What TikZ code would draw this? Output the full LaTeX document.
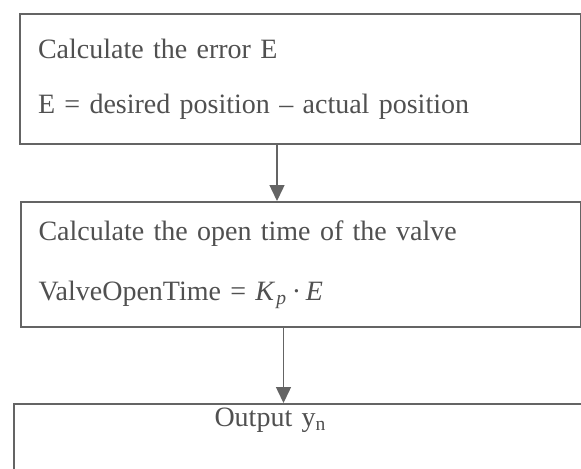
\documentclass[tikz,border=0pt]{standalone}
\usepackage{fontspec}
\setmainfont{Liberation Serif}
\usepackage{tikz}
\usetikzlibrary{positioning,arrows.meta}

\definecolor{linegray}{RGB}{100,100,100}
\definecolor{textgray}{RGB}{80,80,80}

\begin{document}
\begin{tikzpicture}[
x=0.5pt, y=-0.5pt,
box/.style={rectangle, draw=linegray, line width=1pt, text=textgray, align=left, inner xsep=9pt, inner ysep=0pt},
arrow/.style={-{Triangle[length=8pt,width=7.5pt]}, draw=linegray, line width=0.7pt}
]
\clip (0,0) rectangle (581,468);
\fill[white] (0,0) rectangle (581,468);

\node[box, anchor=north west, minimum width=280.5pt, minimum height=65pt, text width=262.5pt,
  font=\fontsize{14}{27.5}\selectfont] (error) at (19,13)
  {Calculate the error E\\E = desired position – actual position};
\node[box, below=28pt of error, minimum width=280pt, minimum height=62.5pt, text width=262pt,
  font=\fontsize{14}{30}\selectfont] (valve)
  {Calculate the open time of the valve\\ValveOpenTime = \textit{K}\textsubscript{\kern0.5pt\textit{p}}\,·\,\textit{E}};
\node[box, below=37.5pt of valve, xshift=-1.5pt, inner xsep=100.5pt, text width=83pt,
  text height=11pt, text depth=40pt, font=\fontsize{14}{17}\selectfont] (output)
  {Output y\textsubscript{n}};

\draw[arrow] ([xshift=-11.75pt]error.south) -- ([xshift=-11.75pt]error.south |- valve.north);
\draw[arrow] ([xshift=-8.5pt]valve.south) -- ([xshift=-8.5pt]valve.south |- output.north);

\end{tikzpicture}
\end{document}
